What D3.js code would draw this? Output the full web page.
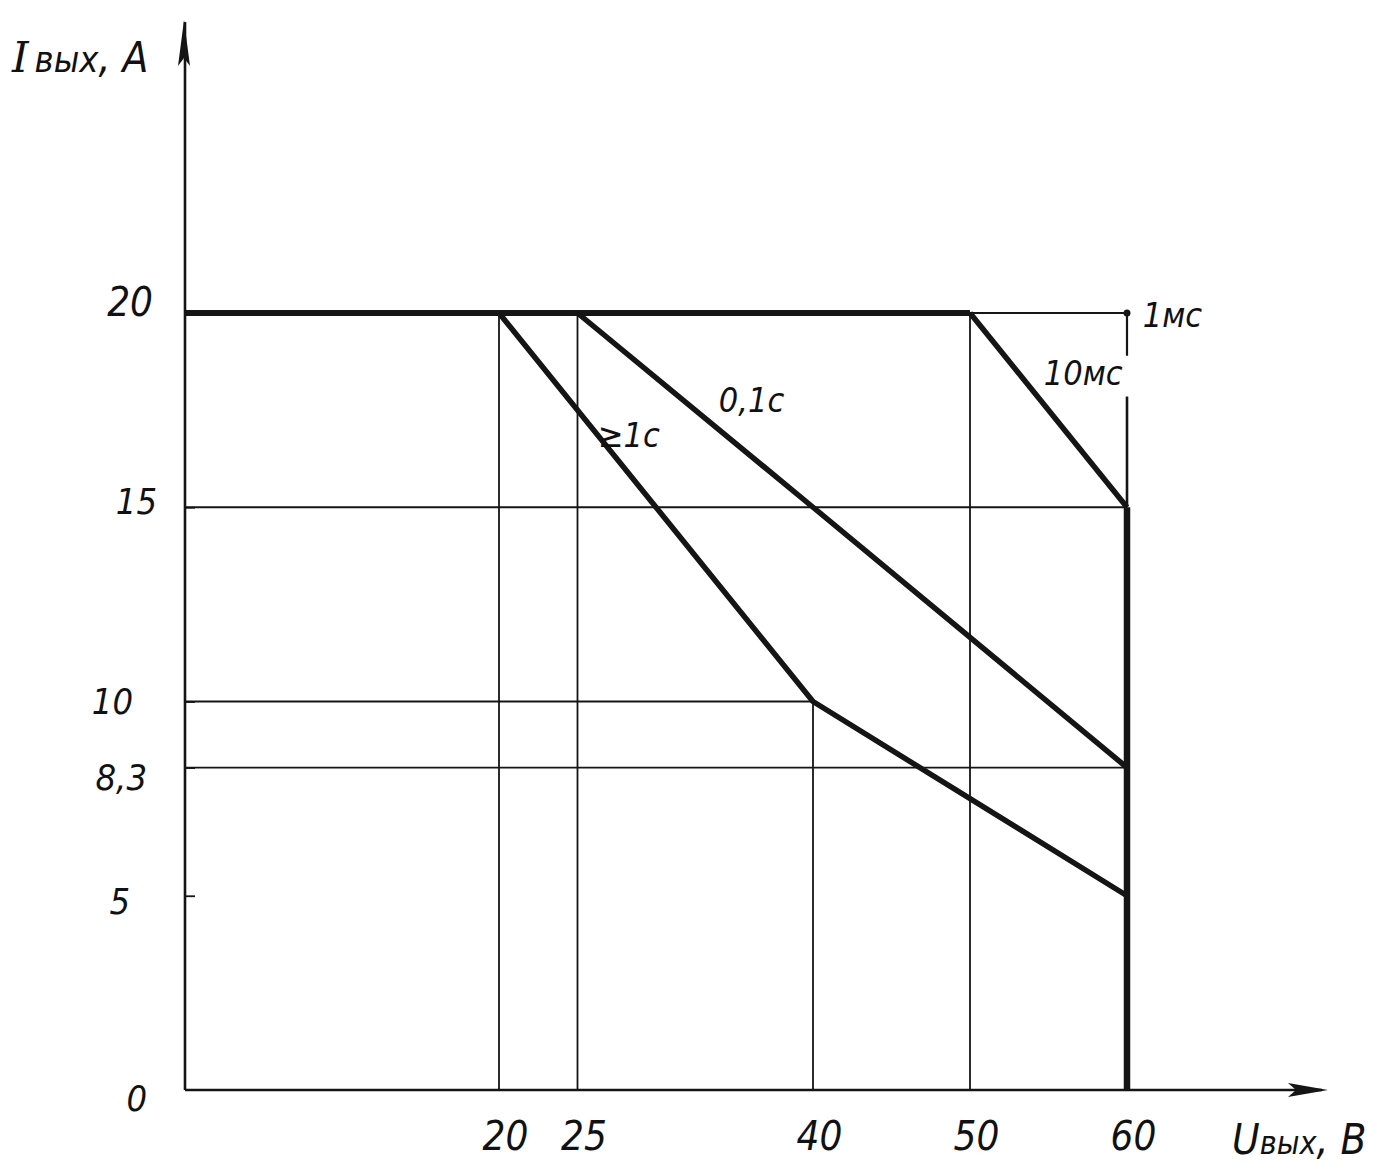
<!DOCTYPE html>
<html><head><meta charset="utf-8">
<script src="https://cdn.jsdelivr.net/npm/d3@7"></script>
<style>
html,body{margin:0;padding:0;background:#fff;}
text{font-family:"DejaVu Sans Condensed","DejaVu Sans",sans-serif;font-style:italic;fill:#111;}
</style></head>
<body>
<svg id="c" width="1381" height="1175"></svg>
<script>
// ---- data ----
const xTicks = [20, 25, 40, 50, 60];
const yTicks = [0, 5, 8.3, 10, 15, 20];
const yTickLabels = ["0", "5", "8,3", "10", "15", "20"];
const dcLimit = [[0, 20], [50, 20]];
const limit1ms = [[50, 20], [60, 20], [60, 15]];
const limit10ms = [[50, 20], [60, 15]];
const limit01s = [[25, 20], [40, 15], [60, 8.3]];
const limit1s = [[20, 20], [40, 10], [60, 5]];
const voltageLimit = [[60, 15], [60, 0]];
const hGrid = [[15, 60], [10, 40], [8.3, 60]];   // [current, extends to voltage]
const vGrid = [[20, 20], [25, 20], [40, 10], [50, 20]]; // [voltage, extends to current]
const curveLabels = [
  {t: "1мс", x: 61, y: 20},
  {t: "10мс", x: 54.7, y: 18.5},
  {t: "0,1с", x: 34.0, y: 17.8},
  {t: "≥1с", x: 26.3, y: 16.9}
];

const svg = d3.select("#c");
const x = d3.scaleLinear().domain([0, 60]).range([185, 1127]);
const y = d3.scaleLinear().domain([0, 20]).range([1090, 313]);
const line = d3.line().x(d => x(d[0])).y(d => y(d[1]));
const ink = "#151515";

// grid lines
svg.append("g").selectAll("line").data(hGrid).join("line")
  .attr("x1", x(0)).attr("x2", d => x(d[1]))
  .attr("y1", d => y(d[0])).attr("y2", d => y(d[0]))
  .attr("stroke", ink).attr("stroke-width", 1.8);
svg.append("g").selectAll("line").data(vGrid).join("line")
  .attr("x1", d => x(d[0])).attr("x2", d => x(d[0]))
  .attr("y1", y(0)).attr("y2", d => y(d[1]))
  .attr("stroke", ink).attr("stroke-width", 1.8);

// 1 ms boundary (thin, with gap for label)
svg.append("path").datum(limit1ms.slice(0, 2)).attr("d", line)
  .attr("fill", "none").attr("stroke", ink).attr("stroke-width", 2.2);
svg.append("line").attr("x1", x(60)).attr("x2", x(60))
  .attr("y1", y(20)).attr("y2", y(18.9)).attr("stroke", ink).attr("stroke-width", 2.2);
svg.append("line").attr("x1", x(60)).attr("x2", x(60))
  .attr("y1", y(17.85)).attr("y2", y(15)).attr("stroke", ink).attr("stroke-width", 2.6);
svg.append("circle").attr("cx", x(60)).attr("cy", y(20)).attr("r", 3.5).attr("fill", ink);

// axes
const xAxis = d3.axisBottom(x).tickValues(xTicks).tickSize(0).tickPadding(30).tickFormat(d3.format("d"));
const gx = svg.append("g").attr("transform", `translate(0,${y(0)})`).call(xAxis);
gx.select(".domain").remove();
gx.selectAll("text").attr("font-size", 40).attr("dy", "0.75em")
  .style("font-family", '"DejaVu Sans Condensed","DejaVu Sans",sans-serif').style("font-style", "italic")
  .attr("fill", ink).attr("dx", 6);

const yAxis = d3.axisLeft(y).tickValues(yTicks).tickSize(-10)
  .tickFormat((d, i) => yTickLabels[i]);
const gy = svg.append("g").attr("transform", `translate(${x(0)},0)`).call(yAxis);
gy.select(".domain").remove();
gy.selectAll(".tick line").attr("stroke", ink).attr("stroke-width", 1.8);
gy.selectAll(".tick").filter(d => d === 0 || d === 20).select("line").remove();
const yOff = {0: [-38, 8], 5: [-55, 6], 8.3: [-38, 10], 10: [-52, 0], 15: [-28, -6], 20: [-32, -10]};
gy.selectAll(".tick text").attr("font-size", 36)
  .style("font-family", '"DejaVu Sans Condensed","DejaVu Sans",sans-serif').style("font-style", "italic")
  .attr("fill", ink).attr("text-anchor", "end")
  .attr("x", d => yOff[d][0]).attr("dy", d => (yOff[d][1] + 12) + "px");
gy.selectAll(".tick").filter(d => d === 20).select("text").attr("font-size", 40);

// axis lines with arrows
svg.append("line").attr("x1", x(0)).attr("x2", x(0)).attr("y1", y(0)).attr("y2", 22)
  .attr("stroke", ink).attr("stroke-width", 2.6);
svg.append("path").attr("d", `M${x(0) - 1},20 L${x(0) - 7},66 L${x(0) - 1},58 L${x(0) + 5},66 Z`).attr("fill", ink);
svg.append("line").attr("x1", x(0)).attr("x2", 1322).attr("y1", y(0)).attr("y2", y(0))
  .attr("stroke", ink).attr("stroke-width", 2.6);
svg.append("path").attr("d", `M1328,${y(0)} L1288,${y(0) - 7} L1296,${y(0)} L1288,${y(0) + 7} Z`).attr("fill", ink);

// thick limit curves
[dcLimit, limit10ms, limit01s, limit1s, voltageLimit].forEach((d, i) => {
  svg.append("path").datum(d).attr("d", line).attr("fill", "none")
    .attr("stroke", ink).attr("stroke-width", i === 4 ? 6.5 : (i === 0 ? 6 : 5.5))
    .attr("stroke-linejoin", "round").attr("stroke-linecap", "butt");
});

// curve labels
svg.append("g").selectAll("text").data(curveLabels).join("text")
  .attr("x", d => x(d.x)).attr("y", d => y(d.y) + 14)
  .attr("font-size", 34).text(d => d.t);

// axis titles
const ty = svg.append("text").attr("x", 12).attr("y", 72).attr("font-size", 42);
ty.append("tspan").style("font-family", '"DejaVu Serif",serif').text("I");
ty.append("tspan").attr("font-size", 36).attr("dx", 6).text("вых");
ty.append("tspan").text(", A");

const tx = svg.append("text").attr("x", 1232).attr("y", 1154).attr("font-size", 42);
tx.append("tspan").text("U");
tx.append("tspan").attr("font-size", 32).text("вых");
tx.append("tspan").text(", B");
</script>
</body></html>
